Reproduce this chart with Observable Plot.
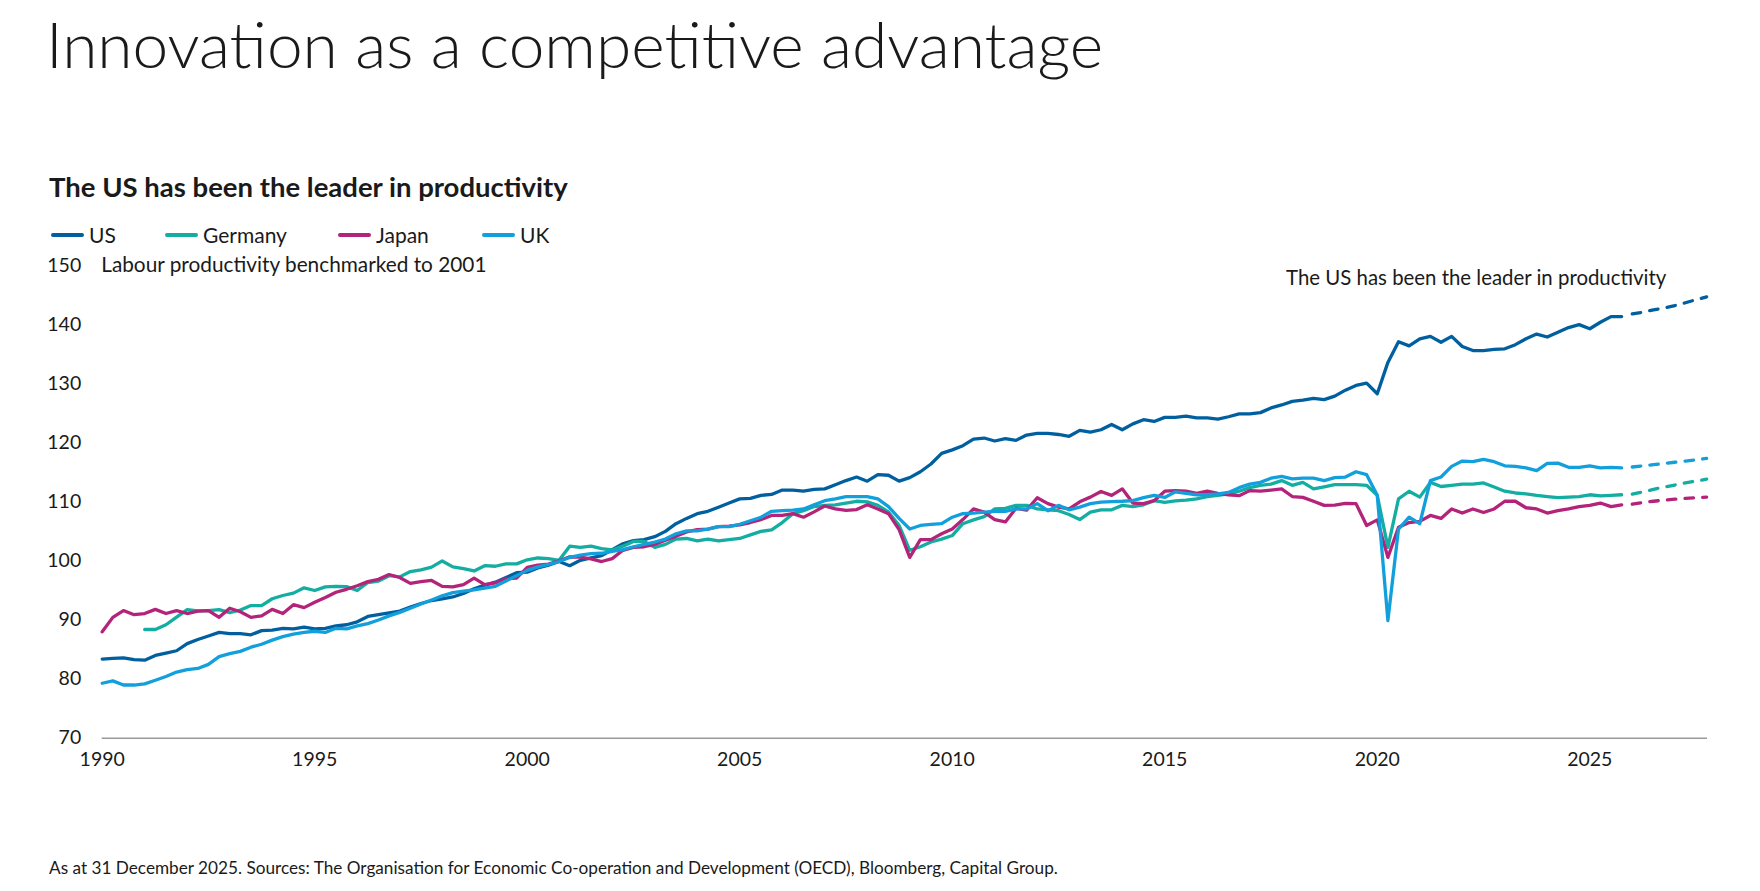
<!DOCTYPE html>
<html>
<head>
<meta charset="utf-8">
<script src="https://cdn.jsdelivr.net/npm/d3@7"></script>
<script src="https://cdn.jsdelivr.net/npm/@observablehq/plot@0.6"></script>
<style>
  body { margin: 0; background: #fff; width: 1760px; height: 891px; position: relative; overflow: hidden;
         font-family: Lato, "Noto Sans", sans-serif; color: #1a1a1a; }
  #title { position: absolute; left: 46px; top: 12px; font-size: 64px; font-weight: 300; line-height: 1; white-space: nowrap; }
  #subtitle { position: absolute; left: 49px; top: 173px; font-size: 27.5px; font-weight: 700; line-height: 1; white-space: nowrap; }
  #legend { position: absolute; left: 0; top: 224px; width: 700px; height: 22px; font-size: 21px; line-height: 1; }
  .item { position: absolute; top: 0; display: flex; align-items: center; white-space: nowrap; }
  .swatch { width: 33px; height: 4px; border-radius: 2px; margin-right: 5px; }
  #chart { position: absolute; left: 0; top: 250px; }
  #caption { position: absolute; left: 49px; top: 859px; font-size: 17.2px; line-height: 1; white-space: nowrap; }
</style>
</head>
<body>
<div id="title">Innovation as a competitive advantage</div>
<div id="subtitle">The US has been the leader in productivity</div>
<div id="legend"></div>
<div id="chart"></div>
<div id="caption">As at 31 December 2025. Sources: The Organisation for Economic Co-operation and Development (OECD), Bloomberg, Capital Group.</div>
<script>
// Quarterly labour productivity index (2001 = 100), Q1 1990 to Q4 2025
const firstQuarter = 1990;
const countries = ["US", "Germany", "Japan", "UK"];
const colors = ["#00609f", "#13ada2", "#b4237a", "#12a0dd"];
const legendOffsets = [51, 165, 338, 482];

const us = [
  83.4, 83.5, 83.6, 83.3, 83.2, 84.0, 84.4, 84.8, 86.0, 86.7,
  87.3, 87.9, 87.7, 87.7, 87.5, 88.2, 88.3, 88.6, 88.5, 88.8,
  88.5, 88.6, 89.0, 89.2, 89.7, 90.6, 90.9, 91.2, 91.5, 92.2,
  92.8, 93.3, 93.6, 93.9, 94.5, 95.3, 95.9, 96.4, 97.2, 98.0,
  98.1, 98.8, 99.3, 99.9, 99.2, 100.1, 100.5, 100.9, 101.9, 102.9,
  103.45, 103.6, 104.1, 105.0, 106.3, 107.2, 108.0, 108.4, 109.1, 109.8,
  110.5, 110.6, 111.1, 111.25, 112.0, 112.0, 111.8, 112.1, 112.2, 112.9,
  113.6, 114.2, 113.5, 114.6, 114.5, 113.5, 114.1, 115.1, 116.4, 118.2,
  118.8, 119.5, 120.6, 120.8, 120.3, 120.7, 120.4, 121.3, 121.6, 121.6,
  121.4, 121.1, 122.1, 121.8, 122.2, 123.1, 122.2, 123.2, 123.9, 123.6,
  124.3, 124.3, 124.5, 124.2, 124.2, 124.0, 124.4, 124.9, 124.9, 125.1,
  125.9, 126.4, 127.0, 127.2, 127.5, 127.3, 127.9, 128.9, 129.7, 130.1,
  128.3, 133.6, 137.1, 136.4, 137.6, 138.0, 137.0, 138.0, 136.3, 135.6,
  135.6, 135.8, 135.9, 136.6, 137.6, 138.4, 137.9, 138.7, 139.5, 140.0,
  139.3, 140.4, 141.35, 141.35
];

const germany = [
  null, null, null, null, 88.4, 88.4, 89.2, 90.5, 91.75, 91.55,
  91.6, 91.75, 91.25, 91.7, 92.45, 92.45, 93.6, 94.15, 94.55, 95.45,
  95.0, 95.6, 95.7, 95.65, 95.0, 96.35, 96.6, 97.5, 97.3, 98.2,
  98.5, 98.95, 100.0, 99.0, 98.7, 98.3, 99.2, 99.1, 99.5, 99.5,
  100.2, 100.5, 100.4, 100.1, 102.5, 102.3, 102.5, 102.1, 101.85, 102.5,
  103.3, 103.3, 102.3, 102.8, 103.7, 103.8, 103.4, 103.7, 103.4, 103.6,
  103.8, 104.4, 105.0, 105.25, 106.5, 108.0, 108.5, 109.2, 109.4, 109.5,
  109.8, 110.1, 110.0, 109.4, 108.3, 106.0, 101.8, 102.4, 103.2, 103.7,
  104.3, 106.3, 106.95, 107.5, 108.8, 108.9, 109.4, 109.4, 108.8, 108.65,
  108.5, 107.85, 107.0, 108.25, 108.65, 108.65, 109.4, 109.2, 109.5, 110.2,
  109.9, 110.15, 110.3, 110.5, 110.9, 111.1, 111.35, 111.8, 112.4, 112.8,
  113.0, 113.6, 112.8, 113.3, 112.2, 112.55, 112.9, 112.9, 112.9, 112.8,
  111.1, 102.3, 110.5, 111.8, 110.8, 113.3, 112.6, 112.8, 113.0, 113.0,
  113.2, 112.5, 111.8, 111.5, 111.35, 111.1, 110.9, 110.7, 110.8, 110.9,
  111.2, 111.0, 111.1, 111.2
];

const japan = [
  88.0, 90.45, 91.6, 90.9, 91.1, 91.8, 91.1, 91.6, 91.1, 91.5,
  91.6, 90.45, 92.0, 91.4, 90.45, 90.7, 91.8, 91.1, 92.6, 92.1,
  93.0, 93.8, 94.7, 95.2, 95.8, 96.5, 96.9, 97.7, 97.2, 96.2,
  96.5, 96.7, 95.7, 95.6, 96.0, 97.1, 96.0, 96.3, 97.0, 97.1,
  98.9, 99.3, 99.45, 100.0, 100.7, 100.65, 100.35, 99.9, 100.4, 101.8,
  102.3, 102.4, 102.8, 103.5, 104.2, 104.9, 105.3, 105.4, 105.8, 105.9,
  106.1, 106.5, 107.0, 107.7, 107.7, 108.0, 107.4, 108.3, 109.3, 108.8,
  108.55, 108.7, 109.5, 108.8, 108.0, 105.3, 100.6, 103.6, 103.6, 104.6,
  105.4, 107.0, 108.8, 108.25, 107.0, 106.6, 108.9, 108.6, 110.7, 109.7,
  109.1, 108.8, 110.0, 110.8, 111.75, 111.1, 112.2, 109.8, 109.7, 110.2,
  111.8, 111.9, 111.8, 111.45, 111.8, 111.45, 111.2, 111.05, 111.9, 111.8,
  112.0, 112.2, 110.9, 110.75, 110.1, 109.4, 109.45, 109.75, 109.7, 106.0,
  106.95, 100.6, 105.7, 106.5, 106.7, 107.7, 107.2, 108.8, 108.1, 108.8,
  108.2, 108.8, 110.1, 110.1, 109.0, 108.8, 108.1, 108.5, 108.8, 109.2,
  109.4, 109.8, 109.2, 109.5
];

const uk = [
  79.3, 79.7, 79.0, 79.0, 79.2, 79.8, 80.45, 81.2, 81.6, 81.8,
  82.5, 83.8, 84.3, 84.7, 85.4, 85.9, 86.6, 87.2, 87.6, 87.9,
  88.1, 87.9, 88.6, 88.5, 89.0, 89.4, 90.0, 90.7, 91.3, 92.0,
  92.7, 93.4, 94.1, 94.65, 94.9, 95.1, 95.4, 95.7, 96.6, 97.5,
  98.4, 99.0, 99.4, 99.9, 100.6, 101.0, 101.25, 101.3, 101.6, 101.9,
  102.4, 102.8, 103.2, 103.7, 104.6, 105.1, 105.1, 105.4, 105.8, 105.8,
  106.2, 106.8, 107.4, 108.4, 108.5, 108.6, 108.8, 109.5, 110.2, 110.5,
  110.9, 110.9, 110.9, 110.5, 109.2, 107.2, 105.4, 106.0, 106.2, 106.3,
  107.4, 108.0, 108.1, 108.25, 108.4, 108.4, 108.8, 108.8, 109.7, 108.5,
  109.4, 108.65, 109.1, 109.7, 109.95, 110.05, 110.1, 110.2, 110.7, 111.1,
  110.75, 111.7, 111.45, 111.2, 111.2, 111.35, 111.6, 112.4, 113.0, 113.3,
  114.0, 114.3, 113.9, 114.0, 114.0, 113.6, 114.1, 114.2, 115.1, 114.6,
  111.1, 89.9, 105.4, 107.4, 106.3, 113.6, 114.2, 116.0, 116.9, 116.8,
  117.2, 116.8, 116.1, 116.0, 115.75, 115.3, 116.5, 116.55, 115.85, 115.85,
  116.1, 115.75, 115.85, 115.75
];

// Projection, Q1 2026 to Q4 2027 (dashed)
const forecastStart = 2026;
const usForecast      = [141.8, 142.1, 142.5, 142.8, 143.2, 143.7, 144.2, 144.7];
const germanyForecast = [111.3, 111.7, 112.1, 112.5, 112.85, 113.2, 113.5, 113.85];
const japanForecast   = [109.6, 109.9, 110.1, 110.3, 110.45, 110.6, 110.7, 110.8];
const ukForecast      = [115.9, 116.1, 116.3, 116.5, 116.7, 116.9, 117.1, 117.35];

const xTicks = [1990, 1995, 2000, 2005, 2010, 2015, 2020, 2025];
const yTicks = [70, 80, 90, 100, 110, 120, 130, 140, 150];
const axisLabel = "Labour productivity benchmarked to 2001";
const note = {text: "The US has been the leader in productivity", year: 2026.8, value: 147.8};

// Long-format tables for Plot
const toRows = (country, values, start) =>
  values.map((value, i) => ({country, date: start + i / 4, value})).filter(d => d.value != null);

const actual = [
  ...toRows("US", us, firstQuarter),
  ...toRows("Germany", germany, firstQuarter),
  ...toRows("Japan", japan, firstQuarter),
  ...toRows("UK", uk, firstQuarter)
];
const forecast = [
  ...toRows("US", usForecast, forecastStart),
  ...toRows("Germany", germanyForecast, forecastStart),
  ...toRows("Japan", japanForecast, forecastStart),
  ...toRows("UK", ukForecast, forecastStart)
];

// Legend
const legend = document.getElementById("legend");
countries.forEach((c, i) => {
  const item = document.createElement("div");
  item.className = "item";
  item.style.left = legendOffsets[i] + "px";
  item.innerHTML = `<span class="swatch" style="background:${colors[i]}"></span><span>${c}</span>`;
  legend.appendChild(item);
});

const chart = Plot.plot({
  width: 1760,
  height: 530,
  marginLeft: 101.7,
  marginRight: 53,
  marginTop: 15,
  marginBottom: 42.3,
  style: {fontFamily: "Lato, 'Noto Sans', sans-serif", fontSize: "19.5px", color: "#1a1a1a", background: "transparent"},
  x: {domain: [1990, 2027.77], ticks: xTicks, tickFormat: d => String(d), tickSize: 0, tickPadding: 14, label: null},
  y: {domain: [70, 150], ticks: yTicks, tickSize: 0, tickPadding: 21, label: null},
  color: {domain: countries, range: colors},
  marks: [
    Plot.ruleY([70], {stroke: "#9a9a9a", strokeWidth: 1.5}),
    Plot.line(actual, {x: "date", y: "value", z: "country", stroke: "country",
      strokeWidth: 3.3, strokeLinejoin: "round", strokeLinecap: "round"}),
    Plot.line(forecast, {x: "date", y: "value", z: "country", stroke: "country",
      strokeWidth: 3.3, strokeLinecap: "round", strokeDasharray: "8.5,9.2"}),
    Plot.text([axisLabel], {frameAnchor: "top-left", text: d => d, textAnchor: "start",
      lineAnchor: "middle", dx: -1, fontSize: 20.8, fill: "#1a1a1a"}),
    Plot.text([note], {x: "year", y: "value", text: "text", textAnchor: "end",
      lineAnchor: "middle", fontSize: 20.4, fill: "#1a1a1a"})
  ]
});
document.getElementById("chart").appendChild(chart);
</script>
</body>
</html>
